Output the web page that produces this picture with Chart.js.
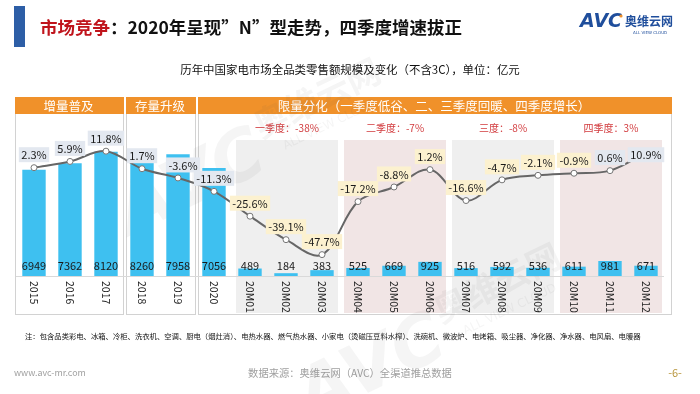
<!DOCTYPE html>
<html>
<head>
<meta charset="utf-8">
<script src="https://cdn.jsdelivr.net/npm/chart.js@4/dist/chart.umd.min.js"></script>
<style>
  html, body { margin: 0; padding: 0; background: #fff; }
  #wrap { width: 700px; height: 394px; position: relative; }
</style>
</head>
<body>
<div id="wrap"><canvas id="chart" width="700" height="394"></canvas></div>
<script>
// data
const categories = ['2015', '2016', '2017', '2018', '2019', '2020',
    '20M01', '20M02', '20M03', '20M04', '20M05', '20M06',
    '20M07', '20M08', '20M09', '20M10', '20M11', '20M12'];
const salesValues = [6949, 7362, 8120, 8260, 7958, 7056,
    489, 184, 383, 525, 669, 925, 516, 592, 536, 611, 981, 671];
const growthRates = [2.3, 5.9, 11.8, 1.7, -3.6, -11.3,
    -25.6, -39.1, -47.7, -17.2, -8.8, 1.2, -16.6, -4.7, -2.1, -0.9, 0.6, 10.9];
const groupTitles = ['增量普及', '存量升级', '限量分化（一季度低谷、二、三季度回暖、四季度增长）'];
const groupRanges = [[0, 2], [3, 4], [5, 17]];
const quarterTitles = ['一季度：-38%', '二季度：-7%', '三度：-8%', '四季度：3%'];
const quarterRanges = [[6, 8], [9, 11], [12, 14], [15, 17]];

const FONT = '"Noto Sans CJK SC", "Noto Sans", sans-serif';
const ORANGE = '#f0912a';

// draw text scaled so it fills a given width
function fitText(ctx, txt, x, y, width, weight) {
    ctx.font = (weight || '') + ' 10px ' + FONT;
    const size = 10 * width / ctx.measureText(txt).width;
    ctx.font = (weight || '') + ' ' + size.toFixed(2) + 'px ' + FONT;
    ctx.fillText(txt, x, y);
}

// backgrounds: panels, headers, quarter shading
const backdropPlugin = {
    id: 'backdrop',
    beforeDraw(chart) {
        const ctx = chart.ctx;
        const x = chart.scales.x;
        const half = 18;
        ctx.save();

        // title
        ctx.fillStyle = '#2d5ea6';
        ctx.fillRect(14, 6, 11, 41);
        ctx.font = 'bold 17.5px ' + FONT;
        ctx.textBaseline = 'middle';
        ctx.textAlign = 'left';
        ctx.fillStyle = '#c0141c';
        ctx.fillText('市场竞争', 40, 27);
        let w = ctx.measureText('市场竞争').width;
        ctx.fillStyle = '#111';
        ctx.fillText('：2020年呈现”N”型走势，四季度增速拔正', 40 + w, 27);

        // logo
        ctx.font = 'italic bold 19px "DejaVu Sans", sans-serif';
        ctx.fillStyle = '#1f4e9c';
        ctx.fillText('AVC', 580, 22);
        ctx.fillStyle = ORANGE;
        ctx.beginPath();
        ctx.arc(621, 16, 1.6, 0, Math.PI * 2);
        ctx.fill();
        ctx.fillStyle = '#1f4e9c';
        ctx.font = 'bold 12px ' + FONT;
        ctx.fillText('奥维云网', 625, 21);
        ctx.font = '4px "DejaVu Sans", sans-serif';
        ctx.fillText('ALL VIEW CLOUD', 633, 33);

        // subtitle
        ctx.fillStyle = '#111';
        ctx.textAlign = 'center';
        fitText(ctx, '历年中国家电市场全品类零售额规模及变化（不含3C），单位：亿元', 350, 70, 340);

        // group panels
        groupRanges.forEach((r, i) => {
            let left = x.getPixelForValue(r[0]) - half + 1.5;
            let right = x.getPixelForValue(r[1]) + half - 1.5;
            if (i === 0) left -= 3;
            if (i === groupRanges.length - 1) right += 8;
            ctx.strokeStyle = '#d2d2d2';
            ctx.lineWidth = 1;
            ctx.strokeRect(Math.round(left) + 0.5, 97.5, Math.round(right - left), 217);
            ctx.fillStyle = ORANGE;
            ctx.fillRect(Math.round(left), 97, Math.round(right - left) + 1, 17);
            ctx.fillStyle = '#fff';
            ctx.font = '12.5px ' + FONT;
            ctx.textAlign = 'center';
            ctx.fillText(groupTitles[i], (left + right) / 2, 106);
        });

        // quarter shading
        quarterRanges.forEach((r, i) => {
            const left = x.getPixelForValue(r[0]) - 14;
            const right = x.getPixelForValue(r[1]) + 16;
            ctx.fillStyle = i % 2 === 0 ? '#efefef' : '#f1e5e5';
            ctx.fillRect(left, 140, right - left, 173);
            ctx.fillStyle = '#d23a3d';
            ctx.font = '10px ' + FONT;
            ctx.textAlign = 'center';
            ctx.fillText(quarterTitles[i], (left + right) / 2, 128);
        });

        // axis line
        ctx.strokeStyle = '#d9d9d9';
        ctx.beginPath();
        ctx.moveTo(chart.chartArea.left, 276.5);
        ctx.lineTo(chart.chartArea.right, 276.5);
        ctx.stroke();

        // note + footer
        ctx.fillStyle = '#111';
        ctx.textAlign = 'left';
        fitText(ctx, '注：包含品类彩电、冰箱、冷柜、洗衣机、空调、厨电（烟灶消）、电热水器、燃气热水器、小家电（烫磁压豆料水榨）、洗碗机、微波炉、电烤箱、吸尘器、净化器、净水器、电风扇、电暖器', 25, 336, 616);

        ctx.fillStyle = '#a0a0a0';
        fitText(ctx, 'www.avc-mr.com', 14, 373, 72);
        ctx.textAlign = 'center';
        fitText(ctx, '数据来源：奥维云网（AVC）全渠道推总数据', 350, 373, 204);
        ctx.fillStyle = '#b9973f';
        ctx.font = '11px ' + FONT;
        ctx.fillText('-6-', 675, 373);

        // watermarks
        ctx.globalAlpha = 0.06;
        ctx.fillStyle = '#555';
        [[220, 150], [400, 335]].forEach(p => {
            ctx.save();
            ctx.translate(p[0], p[1]);
            ctx.rotate(-0.45);
            ctx.font = 'italic bold 70px "DejaVu Sans", sans-serif';
            ctx.fillText('AVC', -40, 20);
            ctx.font = 'bold 34px ' + FONT;
            ctx.fillText('奥维云网', 110, -5);
            ctx.font = '12px "DejaVu Sans", sans-serif';
            ctx.fillText('ALL VIEW CLOUD', 110, 25);
            ctx.restore();
        });
        ctx.restore();
    }
};

// tick labels and value labels
const labelPlugin = {
    id: 'labels',
    afterDatasetsDraw(chart) {
        const ctx = chart.ctx;
        const x = chart.scales.x;
        const barMeta = chart.getDatasetMeta(0);
        const lineMeta = chart.getDatasetMeta(1);
        ctx.save();

        // rotated category labels
        ctx.font = '10.5px ' + FONT;
        ctx.fillStyle = '#222';
        ctx.textAlign = 'left';
        ctx.textBaseline = 'middle';
        categories.forEach((c, i) => {
            ctx.save();
            ctx.translate(x.getPixelForValue(i), 281);
            ctx.rotate(Math.PI / 2);
            ctx.fillText(c, 0, 0);
            ctx.restore();
        });

        // bar values
        ctx.font = '11px ' + FONT;
        ctx.textAlign = 'center';
        barMeta.data.forEach((bar, i) => {
            ctx.fillStyle = '#1a1a1a';
            ctx.fillText(String(salesValues[i]), bar.x, 266);
        });

        // growth labels
        ctx.font = '11px ' + FONT;
        lineMeta.data.forEach((pt, i) => {
            const txt = growthRates[i].toFixed(1) + '%';
            let cx = pt.x;
            let cy = pt.y - 13;
            if (i === 4) cx += 5;
            if (i === growthRates.length - 1) cy = pt.y + 2;
            const tw = ctx.measureText(txt).width + 5;
            ctx.fillStyle = (i < 6 || i > 15) ? '#e3e8f0' : '#fcf1cf';
            ctx.fillRect(cx - tw / 2, cy - 7.5, tw, 15);
            ctx.fillStyle = '#1a1a1a';
            ctx.fillText(txt, cx, cy + 0.5);
        });
        ctx.restore();
    }
};

new Chart(document.getElementById('chart'), {
    data: {
        labels: categories,
        datasets: [{
            type: 'bar',
            data: salesValues,
            backgroundColor: '#3ec0f0',
            barPercentage: 0.65,
            categoryPercentage: 1,
            yAxisID: 'y',
            order: 2
        }, {
            type: 'line',
            data: growthRates,
            borderColor: '#666',
            borderWidth: 2,
            tension: 0.35,
            pointRadius: 3,
            pointBackgroundColor: '#fff',
            pointBorderColor: '#777',
            pointBorderWidth: 1,
            yAxisID: 'y1',
            order: 1
        }]
    },
    options: {
        responsive: false,
        animation: false,
        layout: { padding: { left: 16, right: 36, top: 123, bottom: 118 } },
        plugins: { legend: { display: false }, tooltip: { enabled: false } },
        scales: {
            x: { display: false },
            y: { display: false, min: 0, max: 10000 },
            y1: { display: false, min: -60, max: 28 }
        }
    },
    plugins: [backdropPlugin, labelPlugin]
});
</script>
</body>
</html>
